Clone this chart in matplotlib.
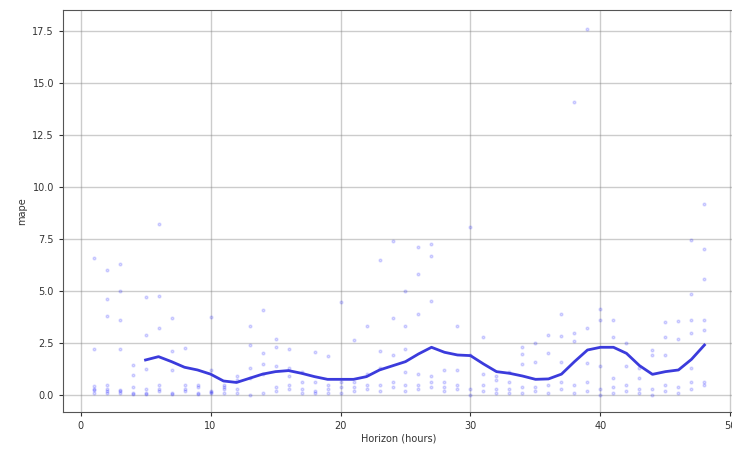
import matplotlib
matplotlib.use('Agg')
import matplotlib.pyplot as plt

# cross validation points: horizon (hours) and mape, one row per horizon
pt_h = (
    [1] * 6 + [2] * 7 + [3] * 7 + [4] * 5 + [5] * 6 + [6] * 6 + [7] * 5 + [8] * 4
    + [9] * 4 + [10] * 5 + [11] * 4 + [12] * 4 + [13] * 5 + [14] * 5 + [15] * 5
    + [16] * 5 + [17] * 4 + [18] * 4 + [19] * 4 + [20] * 4 + [21] * 4 + [22] * 4
    + [23] * 5 + [24] * 5 + [25] * 6 + [26] * 6 + [27] * 6 + [28] * 4 + [29] * 4
    + [30] * 4 + [31] * 4 + [32] * 4 + [33] * 4 + [34] * 5 + [35] * 4 + [36] * 4
    + [37] * 5 + [38] * 5 + [39] * 5 + [40] * 5 + [41] * 5 + [42] * 4 + [43] * 4
    + [44] * 4 + [45] * 5 + [46] * 4 + [47] * 7 + [48] * 7
)
pt_mape = [
    6.6, 2.2, 0.45, 0.3, 0.25, 0.1,
    6.0, 4.6, 3.8, 0.5, 0.3, 0.2, 0.1,
    6.3, 5.0, 3.6, 2.2, 0.25, 0.2, 0.1,
    1.45, 0.95, 0.4, 0.1, 0.05,
    4.7, 2.9, 1.25, 0.3, 0.1, 0.05,
    8.2, 4.75, 3.2, 0.5, 0.3, 0.2,
    3.7, 2.1, 1.2, 0.1, 0.05,
    2.25, 0.5, 0.3, 0.2,
    0.5, 0.4, 0.1, 0.05,
    3.75, 1.2, 0.2, 0.15, 0.1,
    0.5, 0.4, 0.3, 0.1,
    0.9, 0.7, 0.3, 0.1,
    3.3, 2.4, 1.3, 0.8, 0.0,
    4.1, 2.0, 1.5, 1.0, 0.1,
    2.7, 2.3, 1.4, 0.4, 0.2,
    2.2, 1.3, 0.9, 0.5, 0.3,
    1.1, 0.6, 0.3, 0.1,
    2.05, 0.6, 0.2, 0.1,
    1.85, 0.5, 0.3, 0.1,
    4.45, 0.6, 0.4, 0.1,
    2.65, 0.6, 0.4, 0.2,
    3.3, 1.0, 0.5, 0.3,
    6.5, 2.1, 1.3, 0.5, 0.2,
    7.4, 3.7, 1.9, 0.6, 0.4,
    5.0, 3.3, 2.2, 1.1, 0.5, 0.2,
    7.1, 5.8, 3.9, 1.0, 0.5, 0.3,
    7.25, 6.7, 4.5, 0.9, 0.6, 0.4,
    1.2, 0.6, 0.4, 0.2,
    3.3, 1.2, 0.5, 0.3,
    8.05, 1.9, 0.3, 0.0,
    2.8, 1.0, 0.5, 0.2,
    0.9, 0.7, 0.3, 0.1,
    1.1, 0.6, 0.3, 0.1,
    2.3, 1.95, 1.5, 0.4, 0.1,
    2.5, 1.6, 0.4, 0.2,
    2.9, 2.0, 0.5, 0.1,
    3.9, 2.85, 1.6, 0.6, 0.3,
    14.1, 3.0, 2.6, 0.5, 0.1,
    17.6, 3.2, 1.55, 0.6, 0.2,
    4.15, 3.6, 1.4, 0.3, 0.0,
    3.6, 2.8, 0.8, 0.4, 0.1,
    2.5, 1.4, 0.5, 0.2,
    1.3, 0.8, 0.3, 0.1,
    2.15, 1.9, 0.3, 0.0,
    3.5, 2.8, 1.9, 0.5, 0.2,
    3.55, 2.7, 0.4, 0.1,
    7.45, 4.85, 3.6, 3.0, 1.3, 0.6, 0.3,
    9.2, 7.0, 5.55, 3.6, 3.1, 0.6, 0.5,
]

# rolling mean line
line_h = list(range(5, 49))
line_mape = [
    1.68, 1.84, 1.6, 1.33, 1.2, 1.0, 0.67, 0.6, 0.8, 1.0,
    1.12, 1.17, 1.04, 0.88, 0.75, 0.75, 0.75, 0.88, 1.2, 1.4,
    1.6, 1.97, 2.29, 2.05, 1.92, 1.89, 1.49, 1.12, 1.04, 0.91,
    0.75, 0.77, 1.0, 1.6, 2.16, 2.29, 2.29, 2.0, 1.41, 0.99,
    1.12, 1.2, 1.71, 2.4,
]

x_ticks = [0, 10, 20, 30, 40, 50]
y_ticks = [0.0, 2.5, 5.0, 7.5, 10.0, 12.5, 15.0, 17.5]

fig = plt.figure(figsize=(7.32, 4.5), dpi=100)
ax = fig.add_axes([63 / 732, 38 / 450, 672 / 732, 402 / 450])

ax.plot(pt_h, pt_mape, '.', c='b', alpha=0.14, markersize=4)
ax.plot(line_h, line_mape, '-', c='#3b3bdc', lw=2)

ax.grid(True, which='major', c='gray', ls='-', lw=1, alpha=0.4)
ax.set_xticks(x_ticks)
ax.set_yticks(y_ticks)
ax.set_xlim(-1.35, 50.35)
ax.set_ylim(-0.82, 18.5)
ax.tick_params(labelsize=7, length=3, colors='#333333')
for sp in ax.spines.values():
    sp.set_color('#555555')
ax.set_xlabel('Horizon (hours)', fontsize=7, color='#333333', labelpad=2)
ax.set_ylabel('mape', fontsize=7, color='#333333', labelpad=4)

fig.savefig('out.png', dpi=100)
